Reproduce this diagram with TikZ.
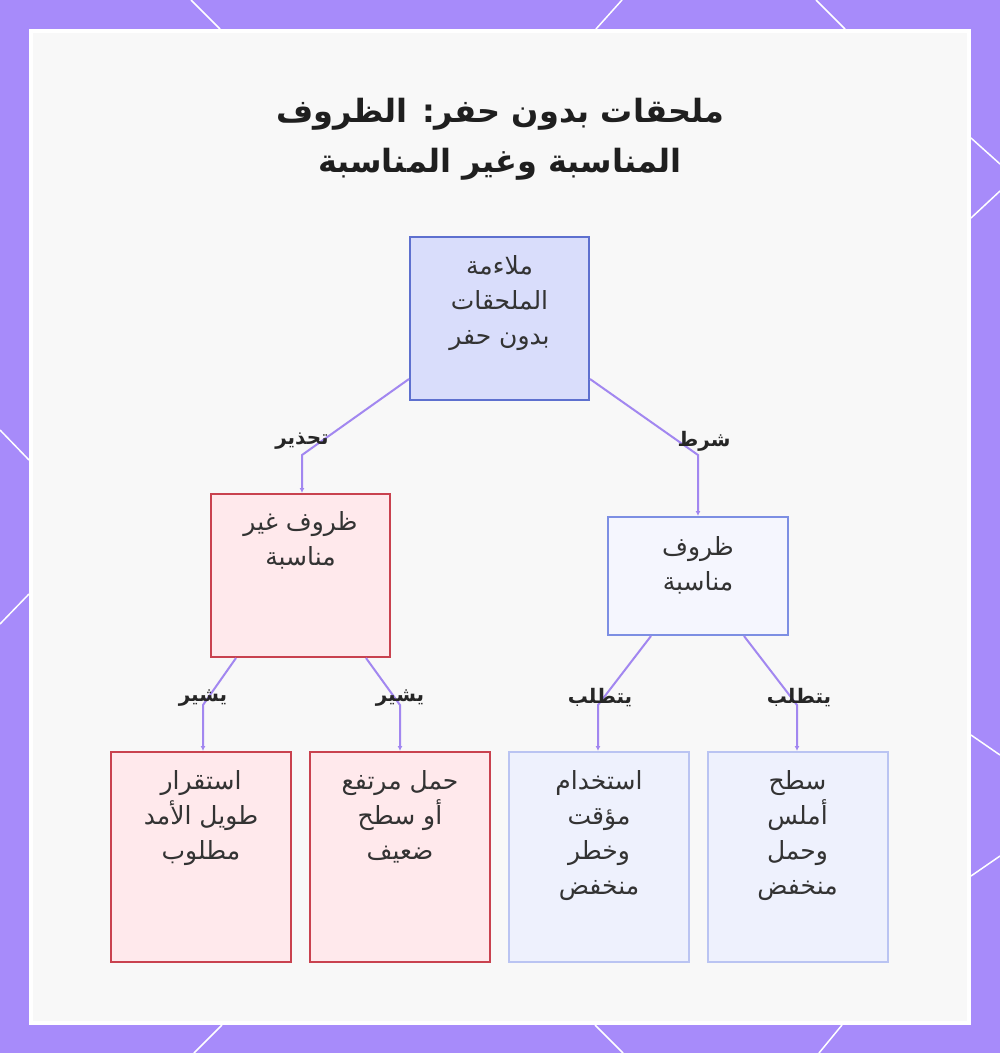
\documentclass[tikz,border=0pt]{standalone}
\usepackage{fontspec}
\newfontfamily\arabicfont[Script=Arabic]{DejaVu Sans}
\TeXXeTstate=1
\usetikzlibrary{calc,arrows.meta}
\newcommand{\rtl}[1]{\beginR #1\endR}
\definecolor{bgpurple}{HTML}{A78BFA}
\definecolor{panel}{HTML}{F8F8F8}
\definecolor{edgec}{HTML}{A287F0}
\definecolor{topfill}{HTML}{D9DDFB}
\definecolor{topdraw}{HTML}{5E70CF}
\definecolor{redfill}{HTML}{FFE9EC}
\definecolor{reddraw}{HTML}{C9424F}
\definecolor{midfill}{HTML}{F5F6FE}
\definecolor{middraw}{HTML}{7D8FE3}
\definecolor{lowfill}{HTML}{EEF1FD}
\definecolor{lowdraw}{HTML}{BAC4F2}
\definecolor{txtc}{HTML}{333333}
\tikzset{
  boxbase/.style={rectangle, line width=2pt, inner sep=0pt},
  topbox/.style={boxbase, fill=topfill, draw=topdraw},
  redbox/.style={boxbase, fill=redfill, draw=reddraw},
  midbox/.style={boxbase, fill=midfill, draw=middraw},
  lowbox/.style={boxbase, fill=lowfill, draw=lowdraw},
  boxtxt/.style={anchor=north, inner sep=0pt, align=center, text=txtc,
    font=\arabicfont\fontsize{25}{35}\selectfont},
  elabel/.style={inner sep=0pt, text=black!85, font=\arabicfont\bfseries\fontsize{20}{22}\selectfont},
  edge/.style={draw=edgec, line width=2pt, -{Latex[length=5pt,width=5pt]}},
  bgline/.style={draw=white, line width=1.5pt}
}
\begin{document}
\begin{tikzpicture}[x=1pt,y=-1pt]
\useasboundingbox (0,0) rectangle (1000,1053);
% background
\fill[bgpurple] (0,0) rectangle (1000,1053);
\draw[bgline] (191,0) -- (220,29);
\draw[bgline] (622,0) -- (596,29);
\draw[bgline] (816,0) -- (845,29);
\draw[bgline] (0,430) -- (29,460);
\draw[bgline] (29,594) -- (0,624);
\draw[bgline] (971,138) -- (1000,164);
\draw[bgline] (971,218) -- (1000,191);
\draw[bgline] (971,735) -- (1000,755);
\draw[bgline] (971,876) -- (1000,856);
\draw[bgline] (222,1025) -- (194,1053);
\draw[bgline] (595,1025) -- (623,1053);
\draw[bgline] (842,1025) -- (819,1053);
\fill[white] (29,29) rectangle (971,1025);
\fill[panel] (33,33) rectangle (967,1021);
% title
\node[inner sep=0pt, align=center, text=black!88, font=\arabicfont\bfseries\fontsize{32}{50}\selectfont] (title) at (500,139)
  {\rtl{ملحقات بدون حفر: الظروف}\\ \rtl{المناسبة وغير المناسبة}};
% boxes
\node[topbox, minimum width=179pt, minimum height=163pt] (top) at (499.5,318.5) {};
\node[redbox, minimum width=179pt, minimum height=163pt] (lm) at (300.5,575.5) {};
\node[midbox, minimum width=180pt, minimum height=118pt] (rm) at (698,576) {};
\node[redbox, minimum width=180pt, minimum height=210pt] (b1) at (201,857) {};
\node[redbox, minimum width=180pt, minimum height=210pt] (b2) at (400,857) {};
\node[lowbox, minimum width=180pt, minimum height=210pt] (b3) at (599,857) {};
\node[lowbox, minimum width=180pt, minimum height=210pt] (b4) at (797.5,857) {};
% texts
\node[boxtxt] (toptxt) at ($(top.north)+(0,19)$) {\rtl{ملاءمة}\\ \rtl{الملحقات}\\ \rtl{بدون حفر}};
\node[boxtxt] (lmtxt) at ($(lm.north)+(0,18)$) {\rtl{ظروف غير}\\ \rtl{مناسبة}};
\node[boxtxt] (rmtxt) at ($(rm.north)+(0,20)$) {\rtl{ظروف}\\ \rtl{مناسبة}};
\node[boxtxt] (b1txt) at ($(b1.north)+(0,19)$) {\rtl{استقرار}\\ \rtl{طويل الأمد}\\ \rtl{مطلوب}};
\node[boxtxt] (b2txt) at ($(b2.north)+(0,19)$) {\rtl{حمل مرتفع}\\ \rtl{أو سطح}\\ \rtl{ضعيف}};
\node[boxtxt] (b3txt) at ($(b3.north)+(0,19)$) {\rtl{استخدام}\\ \rtl{مؤقت}\\ \rtl{وخطر}\\ \rtl{منخفض}};
\node[boxtxt] (b4txt) at ($(b4.north)+(0,19)$) {\rtl{سطح}\\ \rtl{أملس}\\ \rtl{وحمل}\\ \rtl{منخفض}};
% edges
\coordinate (e1) at (302,455);
\coordinate (e2) at (698,455);
\coordinate (e3) at (203,705);
\coordinate (e4) at (400,705);
\coordinate (e5) at (598,705);
\coordinate (e6) at (797,705);
\draw[edge] ($(top.south west)+(0,-22)$) -- (e1) -- (e1 |- lm.north);
\draw[edge] ($(top.south east)+(0,-22)$) -- (e2) -- (e2 |- rm.north);
\draw[edge] ($(lm.south west)+(26,0)$) -- (e3) -- (e3 |- b1.north);
\draw[edge] ($(lm.south east)+(-25,0)$) -- (e4) -- (e4 |- b2.north);
\draw[edge] ($(rm.south west)+(44,0)$) -- (e5) -- (e5 |- b3.north);
\draw[edge] ($(rm.south east)+(-45,0)$) -- (e6) -- (e6 |- b4.north);
% edge labels
\node[elabel] (l1) at (302,441) {\rtl{تحذير}};
\node[elabel] (l2) at (704,441) {\rtl{شرط}};
\node[elabel] (l3) at (203,698) {\rtl{يشير}};
\node[elabel] (l4) at (400,698) {\rtl{يشير}};
\node[elabel] (l5) at (600,698) {\rtl{يتطلب}};
\node[elabel] (l6) at (799,698) {\rtl{يتطلب}};
\end{tikzpicture}
\end{document}
